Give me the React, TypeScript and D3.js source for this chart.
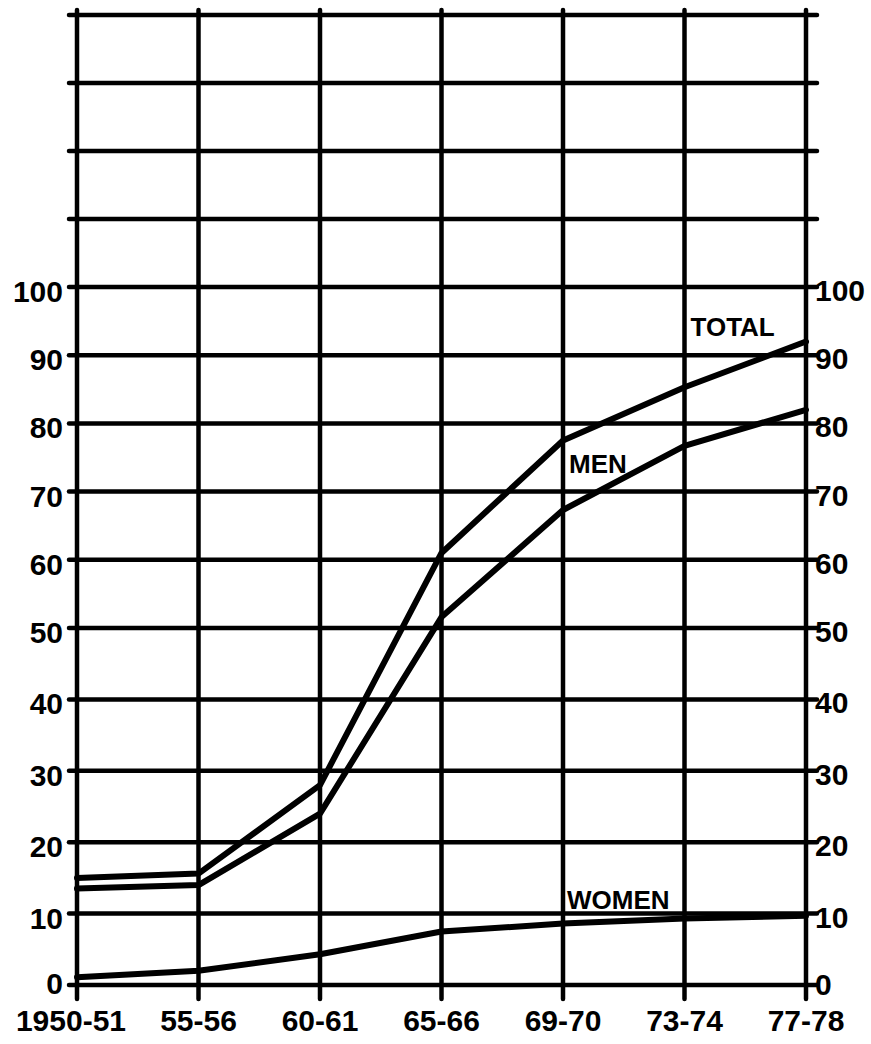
import React from "react";
import * as d3 from "d3";

// periods on the x axis (evenly spaced in the original, not by year)
const periods = ["1950-51", "55-56", "60-61", "65-66", "69-70", "73-74", "77-78"];

// values
const totalValues = [15, 15.6, 28, 61, 77.5, 85.3, 92];
const menValues = [13.5, 14, 24, 51.6, 67.3, 76.7, 82];
const womenValues = [1.1, 2, 4.3, 7.5, 8.6, 9.3, 9.7];

const gridValues = d3.range(0, 150, 10);
const tickValues = d3.range(0, 110, 10);

const width = 871;
const height = 1044;
const font = "'Liberation Sans', Arial, sans-serif";

export default function App() {
  const x = d3.scalePoint<string>().domain(periods).range([77, 806]);
  // hand-drawn grid is not perfectly even, so a piecewise scale follows it
  const y = d3.scaleLinear().domain([0, 50, 100, 140]).range([985, 628, 287, 15]);

  const line = d3
    .line<number>()
    .x((_, i) => x(periods[i]) as number)
    .y((d) => y(d));

  const series = [
    { name: "TOTAL", values: totalValues },
    { name: "MEN", values: menValues },
    { name: "WOMEN", values: womenValues },
  ];

  const left = x(periods[0]) as number;
  const right = x(periods[periods.length - 1]) as number;

  return (
    <div style={{ position: "absolute", left: 0, top: 0 }}>
      <svg width={width} height={height} style={{ display: "block", background: "#fff" }}>
        {/* horizontal grid */}
        <g stroke="#000" strokeWidth={4.5} strokeLinecap="round">
          {gridValues.map((v) => (
            <line key={v} x1={left - 8} x2={right + 11} y1={y(v)} y2={y(v)} />
          ))}
        </g>
        {/* vertical grid */}
        <g stroke="#000" strokeWidth={4.5} strokeLinecap="round">
          {periods.map((p) => (
            <line key={p} x1={x(p)} x2={x(p)} y1={y(140) - 5} y2={y(0) + 14} />
          ))}
        </g>

        {/* series */}
        <g fill="none" stroke="#000" strokeWidth={6} strokeLinejoin="round" strokeLinecap="round">
          {series.map((s) => (
            <path key={s.name} d={line(s.values) ?? ""} />
          ))}
        </g>

        {/* series labels */}
        <g fontFamily={font} fontWeight="bold" fontSize={26} fill="#000">
          <text x={(x("73-74") as number) + 6} y={y(92.8)}>TOTAL</text>
          <text x={(x("69-70") as number) + 6} y={y(72.8)}>MEN</text>
          <text x={(x("69-70") as number) + 4} y={y(10.6)}>WOMEN</text>
        </g>

        {/* left axis labels */}
        <g fontFamily={font} fontWeight="bold" fontSize={30} fill="#000" textAnchor="end">
          {tickValues.map((v) => (
            <text key={v} x={left - 14} y={y(v) + (v === 0 ? 9 : 15)}>{v}</text>
          ))}
        </g>
        {/* right axis labels */}
        <g fontFamily={font} fontWeight="bold" fontSize={30} fill="#000" textAnchor="start">
          {tickValues.map((v) => (
            <text key={v} x={right + 9} y={y(v) + (v === 0 ? 10 : 14)}>{v}</text>
          ))}
        </g>
        {/* bottom labels */}
        <g fontFamily={font} fontWeight="bold" fontSize={30} fill="#000" textAnchor="middle">
          {periods.map((p, i) => (
            <text key={p} x={(x(p) as number) + (i === 0 ? -6 : 0)} y={1031}>{p}</text>
          ))}
        </g>
      </svg>
    </div>
  );
}
